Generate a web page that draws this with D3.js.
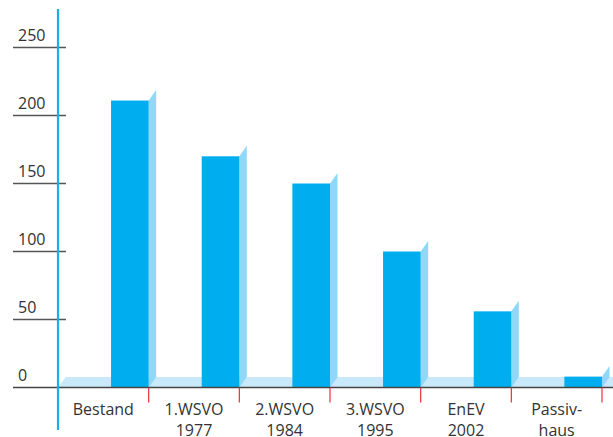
<!DOCTYPE html>
<html><head><meta charset="utf-8">
<script src="https://cdn.jsdelivr.net/npm/d3@7"></script>
<style>body{margin:0;background:#fff}svg{display:block}text{font-family:"Open Sans","Noto Sans",sans-serif;fill:#333}</style>
</head><body><svg id="c" width="613" height="437"></svg>
<script>
const categories = [["Bestand"],["1.WSVO","1977"],["2.WSVO","1984"],["3.WSVO","1995"],["EnEV","2002"],["Passiv-","haus"]];
const values = [211, 170, 150, 100, 56, 8];
const tickValues = [0, 50, 100, 150, 200, 250];

const W = 613, H = 437;
const svg = d3.select("#c");
const keys = categories.map(c => c.join(" "));
const x = d3.scaleBand().domain(keys).range([58, 602]).padding(0);
const y = d3.scaleLinear().domain([0, 250]).range([387.5, 47.5]);
const bw = x.bandwidth() * 0.415;
const dx = 7.5, dy = 10.5;
const base = y(0);

// floor
svg.append("polygon")
  .attr("points", [[58, base], [58 + dx, base - dy], [W + 10, base - dy], [W + 10, base]].map(p => p.join(",")).join(" "))
  .attr("fill", "#c8e9f9");

// bars
const g = svg.append("g").selectAll("g").data(keys).join("g");
g.each(function(k, i) {
  const sel = d3.select(this);
  const x1 = x(k) + x.bandwidth();
  const x0 = x1 - bw;
  const top = y(values[i]);
  sel.append("polygon")
    .attr("points", [[x1, top], [x1 + dx, top - dy], [x1 + dx, base - dy], [x1, base]].map(p => p.join(",")).join(" "))
    .attr("fill", "#90d8f8");
  sel.append("rect").attr("x", x0).attr("y", top).attr("width", bw).attr("height", base - top).attr("fill", "#00aeef");
});

// y ticks
tickValues.forEach(v => {
  if (v > 0) svg.append("line").attr("x1", 13).attr("x2", 66).attr("y1", y(v)).attr("y2", y(v)).attr("stroke", "#555").attr("stroke-width", 1.5);
  svg.append("text").attr("x", 18).attr("y", y(v) - 7).attr("font-size", 16).text(v);
});

// baseline
svg.append("line").attr("x1", 13).attr("x2", W).attr("y1", base).attr("y2", base).attr("stroke", "#444").attr("stroke-width", 1.5);

// red category ticks
keys.forEach(k => {
  const xe = x(k) + x.bandwidth();
  svg.append("line").attr("x1", xe).attr("x2", xe).attr("y1", base).attr("y2", base + 15).attr("stroke", "#e8303a").attr("stroke-width", 1.2);
});

// category labels
categories.forEach((c, i) => {
  const cx = x(keys[i]) + x.bandwidth() / 2;
  const t = svg.append("text").attr("text-anchor", "middle").attr("font-size", 16);
  c.forEach((line, j) => t.append("tspan").attr("x", cx).attr("y", 415 + j * 20.5).text(line));
});

// vertical axis
svg.append("line").attr("x1", 58).attr("x2", 58).attr("y1", 9).attr("y2", 430).attr("stroke", "#1aafec").attr("stroke-width", 2.2);
</script></body></html>
